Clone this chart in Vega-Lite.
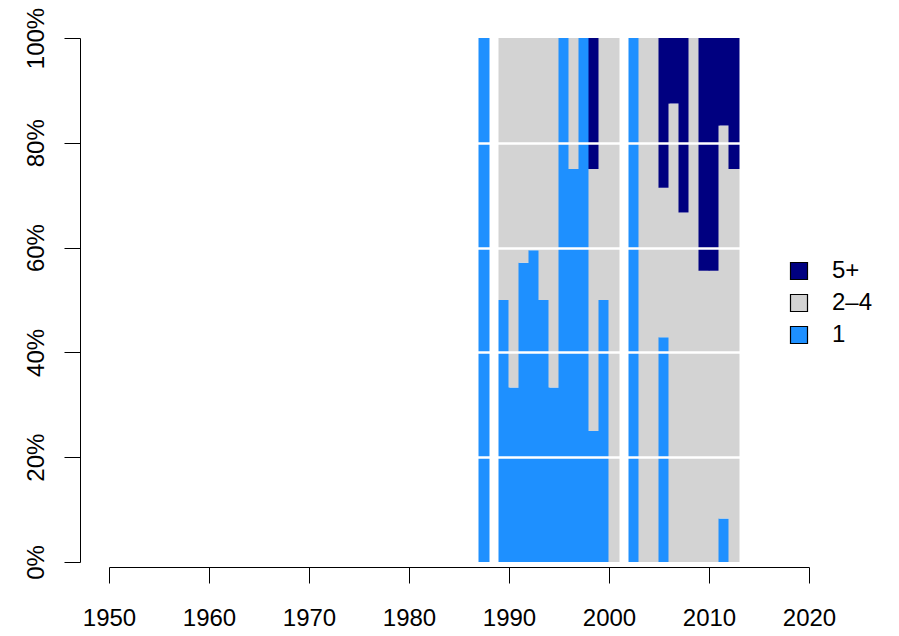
{
  "$schema": "https://vega.github.io/schema/vega-lite/v6.json",
  "width": 700,
  "height": 524,
  "autosize": {"type": "none"},
  "padding": {"left": 109, "top": 38, "right": 90, "bottom": 74},
  "background": "white",
  "config": {"view": {"stroke": null}, "font": "Liberation Sans"},
  "data": {"values": [
    {"year": 1987, "size": "1", "share": 1},
    {"year": 1989, "size": "1", "share": 0.5},
    {"year": 1989, "size": "2–4", "share": 0.5},
    {"year": 1990, "size": "1", "share": 0.333},
    {"year": 1990, "size": "2–4", "share": 0.667},
    {"year": 1991, "size": "1", "share": 0.571},
    {"year": 1991, "size": "2–4", "share": 0.429},
    {"year": 1992, "size": "1", "share": 0.595},
    {"year": 1992, "size": "2–4", "share": 0.405},
    {"year": 1993, "size": "1", "share": 0.5},
    {"year": 1993, "size": "2–4", "share": 0.5},
    {"year": 1994, "size": "1", "share": 0.333},
    {"year": 1994, "size": "2–4", "share": 0.667},
    {"year": 1995, "size": "1", "share": 1},
    {"year": 1996, "size": "1", "share": 0.75},
    {"year": 1996, "size": "2–4", "share": 0.25},
    {"year": 1997, "size": "1", "share": 1},
    {"year": 1998, "size": "1", "share": 0.25},
    {"year": 1998, "size": "2–4", "share": 0.5},
    {"year": 1998, "size": "5+", "share": 0.25},
    {"year": 1999, "size": "1", "share": 0.5},
    {"year": 1999, "size": "2–4", "share": 0.5},
    {"year": 2000, "size": "2–4", "share": 1},
    {"year": 2002, "size": "1", "share": 1},
    {"year": 2003, "size": "2–4", "share": 1},
    {"year": 2004, "size": "2–4", "share": 1},
    {"year": 2005, "size": "1", "share": 0.429},
    {"year": 2005, "size": "2–4", "share": 0.285},
    {"year": 2005, "size": "5+", "share": 0.286},
    {"year": 2006, "size": "2–4", "share": 0.875},
    {"year": 2006, "size": "5+", "share": 0.125},
    {"year": 2007, "size": "2–4", "share": 0.667},
    {"year": 2007, "size": "5+", "share": 0.333},
    {"year": 2008, "size": "2–4", "share": 1},
    {"year": 2009, "size": "2–4", "share": 0.556},
    {"year": 2009, "size": "5+", "share": 0.444},
    {"year": 2010, "size": "2–4", "share": 0.556},
    {"year": 2010, "size": "5+", "share": 0.444},
    {"year": 2011, "size": "1", "share": 0.083},
    {"year": 2011, "size": "2–4", "share": 0.75},
    {"year": 2011, "size": "5+", "share": 0.167},
    {"year": 2012, "size": "2–4", "share": 0.75},
    {"year": 2012, "size": "5+", "share": 0.25}
  ]},
  "mark": {"type": "bar", "binSpacing": 0, "stroke": null, "x2Offset": -1},
  "encoding": {
    "x": {
      "field": "year", "type": "quantitative",
      "bin": {"step": 1, "extent": [1950, 2020], "nice": false},
      "scale": {"domain": [1950, 2020]},
      "axis": {
        "title": null, "values": [1950, 1960, 1970, 1980, 1990, 2000, 2010, 2020],
        "format": "d", "grid": false, "offset": 5, "tickSize": 16, "labelPadding": 23,
        "labelBaseline": "top", "labelFontSize": 24, "labelFont": "Liberation Sans",
        "labelColor": "black", "domainColor": "black", "tickColor": "black",
        "labelFlush": false, "labelOverlap": false
      }
    },
    "y": {
      "field": "share", "type": "quantitative", "aggregate": "sum", "stack": "zero",
      "scale": {"domain": [0, 1]},
      "axis": {
        "title": null, "values": [0, 0.2, 0.4, 0.6, 0.8, 1], "format": ".0%",
        "offset": 29, "tickSize": 16, "labelPadding": 21, "labelAngle": -90,
        "labelAlign": "center", "labelBaseline": "alphabetic",
        "labelFontSize": 24, "labelFont": "Liberation Sans", "labelColor": "black",
        "domainColor": "black", "tickColor": "black", "labelFlush": false, "labelOverlap": false,
        "grid": true, "gridColor": "white", "gridWidth": 2.5,
        "gridOpacity": {"condition": {"test": "datum.value > 0.01 && datum.value < 0.99", "value": 1}, "value": 0},
        "zindex": 1
      }
    },
    "color": {
      "field": "size", "type": "nominal",
      "scale": {"domain": ["5+", "2–4", "1"], "range": ["#000080", "#D3D3D3", "#1E90FF"]},
      "legend": {
        "title": null, "orient": "none", "legendX": 678, "legendY": 221, "padding": 0,
        "symbolType": "square", "symbolSize": 289, "symbolStrokeColor": "black", "symbolStrokeWidth": 1.2,
        "labelFontSize": 24, "labelFont": "Liberation Sans", "labelColor": "black",
        "labelOffset": 21, "rowPadding": 8, "labelBaseline": "middle",
        "encode": {"symbols": {"update": {"stroke": {"value": "black"}, "strokeWidth": {"value": 1.2}}}}
      }
    },
    "order": {"field": "size", "sort": "ascending"}
  }
}
